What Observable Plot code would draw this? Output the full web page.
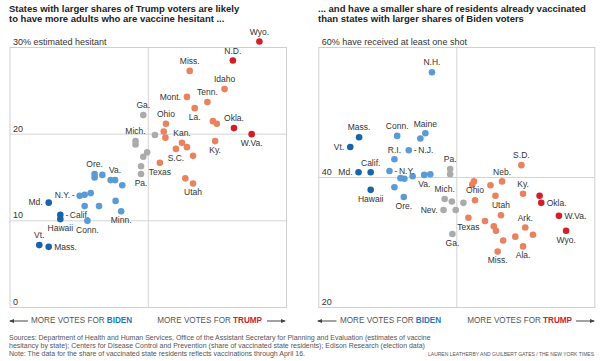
<!DOCTYPE html>
<html>
<head>
<meta charset="utf-8">
<script src="https://cdn.jsdelivr.net/npm/d3@7"></script>
<script src="https://cdn.jsdelivr.net/npm/@observablehq/plot@0.6"></script>
<style>
  body { margin: 0; background: #fff; }
  #root { position: relative; width: 600px; height: 361px; overflow: hidden; background: #fff;
          font-family: "Liberation Sans", Arial, Helvetica, sans-serif; color: #222; }
  .abs { position: absolute; white-space: nowrap; }
  .title { font-weight: bold; font-size: 9.5px; line-height: 10px; color: #222; }
  .dir { font-size: 8.15px; line-height: 10px; color: #555; }
  .dir b.biden { color: #1f78c1; }
  .dir b.trump { color: #d0202a; }
  .foot { font-size: 7px; line-height: 8px; color: #555; }
  .credit { font-size: 5px; line-height: 8px; color: #555; }
</style>
</head>
<body>
<div id="root"></div>
<script>
// ---------- DATA ----------
// x: share of vote for Trump (%), axis centred at 50
const leftLabel = ["Wyo.","N.D.","Okla.","W.Va.","Miss.","Idaho","Mont.","Tenn.","La.","","","Ohio","","","Kan.","","S.C.","","Ky.","Texas","","Utah",
  "Ga.","","Mich.","","","","","Pa.",
  "Ore.","","","","Va.","","N.Y.","","","","","","Conn.","Minn.",
  "Md.","Calif.","Hawaii","Vt.","Mass."];
const leftX = [70.1,65.3,65.5,68.7,57.5,63.8,57.0,60.7,58.4,61.7,62.4,53.2,52.8,53.1,56.1,57.0,55.0,58.1,62.1,52.1,56.7,58.1,
  49.1,51.2,47.7,47.7,49.8,49.1,48.7,48.7,
  40.3,40.3,41.7,43.2,44.0,45.3,37.6,38.5,39.6,38.5,41.1,44.1,39.0,45.1,
  32.0,34.1,34.1,30.3,32.0];
const leftY = [30.7,28.5,20.7,20.0,27.3,25.2,24.3,23.7,23.0,21.5,21.2,21.2,20.3,19.6,19.0,18.5,18.3,17.5,19.2,16.7,14.9,14.3,
  22.2,19.9,19.2,18.8,17.9,17.4,16.3,15.4,
  15.4,15.0,15.3,14.7,14.7,14.1,12.9,13.0,13.2,11.7,11.7,12.3,10.0,11.1,
  12.1,10.7,10.2,7.2,7.0];
const leftGroup = ["T2","T2","T2","T2","T","T","T","T","T","T","T","T","T","T","T","T","T","T","T","T","T","T",
  "S","S","S","S","S","S","S","S",
  "B","B","B","B","B","B","B","B","B","B","B","B","B","B",
  "B2","B2","B2","B2","B2"];

const rightLabel = ["N.H.","Conn.","Maine","","N.J.","R.I.","N.Y.","","","","Va.","","","Ore.",
  "Mass.","Vt.","Md.","Calif.","Hawaii",
  "Pa.","","Mich.","","","Nev.","","Ga.",
  "S.D.","Neb.","","","","Ky.","","Ohio","Utah","Texas","","","","Ark.","","","","Ala.","Miss.",
  "","Okla.","W.Va.","Wyo."];
const rightX = [45.5,39.2,44.3,43.4,41.3,38.7,37.8,39.8,40.5,42.0,44.1,45.2,38.7,40.4,
  32.3,30.7,32.2,34.4,34.4,
  48.8,48.8,47.8,49.1,51.2,47.6,49.8,49.2,
  61.7,58.2,53.1,52.8,56.1,62.0,57.0,53.3,58.0,52.1,55.1,56.7,57.1,62.4,63.8,60.6,58.4,62.0,57.4,
  65.0,65.3,68.5,69.8];
const rightY = [56.2,46.4,46.8,46.0,44.2,42.8,41.0,39.9,39.8,40.2,40.4,40.5,38.5,37.0,
  46.2,44.7,40.8,40.8,38.1,
  41.3,40.5,36.7,36.3,36.1,35.0,35.0,31.3,
  41.9,39.4,39.4,38.9,38.8,37.5,37.2,36.5,34.2,33.8,33.3,32.5,31.8,32.3,31.2,30.9,30.3,29.4,28.6,
  37.2,36.1,34.1,31.8];
const rightGroup = ["B","B","B","B","B","B","B","B","B","B","B","B","B","B",
  "B2","B2","B2","B2","B2",
  "S","S","S","S","S","S","S","S",
  "T","T","T","T","T","T","T","T","T","T","T","T","T","T","T","T","T","T","T",
  "T2","T2","T2","T2"];

const leftTicks = [0, 10, 20, 30];
const leftTickLabels = ["0", "10", "20", "30% estimated hesitant"];
const rightTicks = [20, 40, 60];
const rightTickLabels = ["20", "40", "60% have received at least one shot"];

// ---------- LABEL PLACEMENT (a = above, b = below, l = left, r = right) ----------
const leftPlace = {"Wyo.":"a","N.D.":"a","Okla.":"a","W.Va.":"b","Miss.":"a","Idaho":"a","Mont.":"l","Tenn.":"a","La.":"b",
  "Ohio":"a","Kan.":"a","S.C.":"b","Ky.":"b","Texas":"b","Utah":"b","Ga.":"a","Mich.":"a","Pa.":"b",
  "Ore.":"a","Va.":"a","N.Y.":"l","Conn.":"b","Minn.":"b","Md.":"l","Calif.":"r","Hawaii":"b","Vt.":"a","Mass.":"r"};
const leftLeader = ["N.Y.", "Calif."];
const rightPlace = {"N.H.":"a","Conn.":"a","Maine":"a","N.J.":"r","R.I.":"a","N.Y.":"r","Va.":"b","Ore.":"b",
  "Mass.":"a","Vt.":"l","Md.":"l","Calif.":"a","Hawaii":"b","Pa.":"a","Mich.":"a","Nev.":"l","Ga.":"b",
  "S.D.":"a","Neb.":"a","Ky.":"a","Ohio":"a","Utah":"a","Texas":"b","Ark.":"a","Ala.":"b","Miss.":"b",
  "Okla.":"r","W.Va.":"r","Wyo.":"b"};
const rightLeader = ["N.J.", "N.Y."];

const groupDomain = ["B2","B","S","T","T2"];
const groupColors = ["#1765a8","#5b9bd5","#ababab","#e8825f","#d11f2a"];

// ---------- CHART ----------
function panel({labels, xs, ys, groups, place, leader, yDomain, ticks, tickLabels, marginLeft, marginRight}) {
  const rows = labels.map((s, i) => ({label: s, x: xs[i], y: ys[i], g: groups[i], pos: s ? place[s] : null, lead: leader.includes(s)}));
  const xMin = 25, xMax = 75;
  const grid = ticks.filter(t => t > yDomain[0] && t < yDomain[1]);
  const tickRows = ticks.map((t, i) => ({t, label: tickLabels[i]}));
  const lab = {fontSize: 8.5, fill: "#333"};
  const off = {
    a: {dx: 0, dy: -9.5, textAnchor: "middle"},
    b: {dx: 0, dy: 9, textAnchor: "middle"},
    l: {dx: -6, dy: 0, textAnchor: "end"},
    r: {dx: 5.5, dy: 0, textAnchor: "start"}
  };
  const marks = [
    Plot.ruleY(grid, {y: d => d, stroke: "#d4d4d4", strokeWidth: 1}),
    Plot.ruleX([50], {x: d => d, stroke: "#d4d4d4", strokeWidth: 1}),
    Plot.frame({stroke: "#cfcfcf", strokeWidth: 1}),
    Plot.text(tickRows, {x: () => xMin, y: "t", text: "label", dx: 3, dy: -5.5, textAnchor: "start", fontSize: 9, fill: "#333"}),
    Plot.dot(rows, {x: "x", y: "y", fill: "g", r: 3.3, stroke: "none"})
  ];
  for (const p of ["a","b","l","r"]) {
    const sub = rows.filter(d => d.pos === p);
    const plain = sub.filter(d => !d.lead);
    const led = sub.filter(d => d.lead);
    marks.push(Plot.text(plain, {x: "x", y: "y", text: "label", ...lab, ...off[p]}));
    if (led.length) {
      const sgn = p === "r" ? 1 : -1;
      marks.push(Plot.text(led, {x: "x", y: "y", text: () => "-", dx: sgn * 6.5, textAnchor: "middle", ...lab}));
      marks.push(Plot.text(led, {x: "x", y: "y", text: "label", ...lab, ...off[p], dx: sgn * 9.5}));
    }
  }
  return Plot.plot({
    width: 300,
    height: 310,
    marginTop: 47,
    marginBottom: 3,
    marginLeft,
    marginRight,
    x: {domain: [xMin, xMax], axis: null},
    y: {domain: yDomain, axis: null},
    color: {type: "ordinal", domain: groupDomain, range: groupColors},
    style: {background: "transparent", overflow: "visible", fontFamily: "'Liberation Sans', Arial, Helvetica, sans-serif"},
    marks
  });
}

const root = document.getElementById("root");
function add(html, cls, left, top, extra = "") {
  const d = document.createElement("div");
  d.className = "abs " + cls;
  d.style.cssText = `left:${left}px;top:${top}px;${extra}`;
  d.innerHTML = html;
  root.appendChild(d);
  return d;
}

const p1 = panel({labels: leftLabel, xs: leftX, ys: leftY, groups: leftGroup, place: leftPlace, leader: leftLeader,
  yDomain: [0, 30], ticks: leftTicks, tickLabels: leftTickLabels, marginLeft: 9.5, marginRight: 14});
const p2 = panel({labels: rightLabel, xs: rightX, ys: rightY, groups: rightGroup, place: rightPlace, leader: rightLeader,
  yDomain: [20, 60], ticks: rightTicks, tickLabels: rightTickLabels, marginLeft: 18.3, marginRight: 5.7});
const w1 = document.createElement("div"); w1.className = "abs"; w1.style.cssText = "left:0;top:0;"; w1.appendChild(p1); root.appendChild(w1);
const w2 = document.createElement("div"); w2.className = "abs"; w2.style.cssText = "left:300px;top:0;"; w2.appendChild(p2); root.appendChild(w2);

// titles
add("States with larger shares of Trump voters are likely<br>to have more adults who are vaccine hesitant ...", "title", 9, 4);
add("... and have a smaller share of residents already vaccinated<br>than states with larger shares of Biden voters", "title", 318, 4);

// direction labels with arrows
function arrow(x1, x2, y, headLeft) {
  const svgNS = "http://www.w3.org/2000/svg";
  const s = document.createElementNS(svgNS, "svg");
  const minx = Math.min(x1, x2) - 1, w = Math.abs(x2 - x1) + 2;
  s.setAttribute("width", w); s.setAttribute("height", 6);
  s.style.cssText = `position:absolute;left:${minx}px;top:${y - 3}px;overflow:visible`;
  const ln = document.createElementNS(svgNS, "line");
  ln.setAttribute("x1", 1); ln.setAttribute("x2", w - 1); ln.setAttribute("y1", 3); ln.setAttribute("y2", 3);
  ln.setAttribute("stroke", "#444"); ln.setAttribute("stroke-width", 1);
  s.appendChild(ln);
  const pg = document.createElementNS(svgNS, "polygon");
  pg.setAttribute("points", headLeft ? `0,3 5,1 5,5` : `${w},3 ${w - 5},1 ${w - 5},5`);
  pg.setAttribute("fill", "#444");
  s.appendChild(pg);
  root.appendChild(s);
}
const dirTop = 315.6;
for (const base of [0, 300]) {
  const lf = base === 0 ? 31 : 340;
  const rtEnd = base === 0 ? 262 : 572;
  const a1 = base === 0 ? [10, 28] : [318, 336.5];
  const a2 = base === 0 ? [267, 285] : [576, 594];
  add('MORE VOTES FOR <b class="biden">BIDEN</b>', "dir", lf, dirTop);
  add('MORE VOTES FOR <b class="trump">TRUMP</b>', "dir", 0, dirTop, `left:auto;right:${600 - rtEnd}px;`);
  arrow(a1[0], a1[1], 320.5, true);
  arrow(a2[0], a2[1], 320.5, false);
}

// footer
add("Sources: Department of Health and Human Services, Office of the Assistant Secretary for Planning and Evaluation (estimates of vaccine<br>" +
    "hesitancy by state); Centers for Disease Control and Prevention (share of vaccinated state residents); Edison Research (election data)<br>" +
    "Note: The data for the share of vaccinated state residents reflects vaccinations through April 16.", "foot", 9, 333.7);
add("LAUREN LEATHERBY AND GUILBERT GATES / THE NEW YORK TIMES", "credit", 0, 349.7, "left:auto;right:6px;");
</script>
</body>
</html>
